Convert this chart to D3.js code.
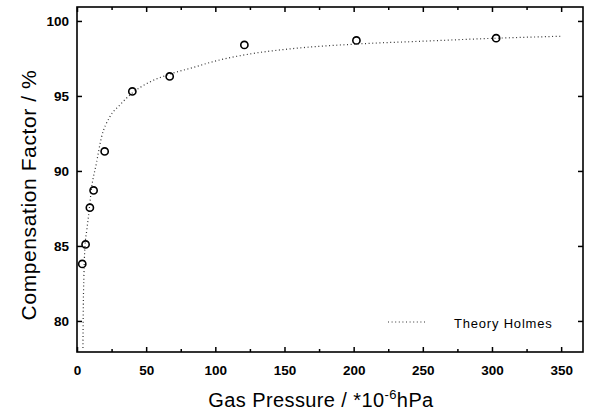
<!DOCTYPE html>
<html>
<head>
<meta charset="utf-8">
<script src="https://cdn.jsdelivr.net/npm/d3@7"></script>
<style>
  body { margin: 0; background: #fff; }
  #chart { width: 590px; height: 414px; }
  text { font-family: "Liberation Sans", Arial, sans-serif; fill: #000; }
</style>
</head>
<body>
<div id="chart"></div>
<script>
// measured compensation factor
var measPressure = [3.8, 6.2, 9.3, 12, 20, 40, 67, 121, 202, 303];
var measFactor = [83.8, 85.1, 87.55, 88.7, 91.3, 95.3, 96.3, 98.4, 98.7, 98.85];

// Holmes theory curve
var theoryPressure = [4.3, 4.5, 5, 5.7, 7, 8.2, 10.6, 14, 17.6, 23.7, 31, 40, 52, 67, 84, 101, 125, 150, 200, 250, 300, 350];
var theoryFactor = [78.2, 80.5, 83, 84.9, 86, 86.9, 88.9, 90.5, 92.2, 93.6, 94.4, 95.2, 95.9, 96.45, 96.9, 97.35, 97.8, 98.1, 98.45, 98.65, 98.84, 98.98];

var xTicks = [0, 50, 100, 150, 200, 250, 300, 350];
var xMinorTicks = [25, 75, 125, 175, 225, 275, 325];
var yTicks = [80, 85, 90, 95, 100];

function formatData(arr1, arr2) {
  var arr = [];
  for (var i = 0; i < arr1.length; i++) {
    arr.push([arr1[i], arr2[i]]);
  }
  return arr;
}

var margin = {top: 7, right: 7, bottom: 62, left: 77},
  width = 590 - margin.left - margin.right,
  height = 414 - margin.top - margin.bottom;

var x = d3.scaleLinear().domain([0, 365.8]).range([0, width]);
var y = d3.scaleLinear().domain([77.93, 100.93]).range([height, 0]);

var svg = d3.select("#chart").append("svg")
    .attr("width", 590)
    .attr("height", 414)
  .append("g")
    .attr("transform", "translate(" + margin.left + "," + margin.top + ")");

// bottom axis, ticks pointing inward
svg.append("g")
    .attr("transform", "translate(0," + height + ")")
    .call(d3.axisBottom(x).tickValues(xTicks).tickSize(-5).tickPadding(13));
svg.append("g")
    .attr("transform", "translate(0," + height + ")")
    .call(d3.axisBottom(x).tickValues(xMinorTicks).tickSize(-3).tickFormat(""));
svg.append("g")
    .call(d3.axisTop(x).tickValues(xTicks).tickSize(-5).tickFormat(""));
svg.append("g")
    .call(d3.axisTop(x).tickValues(xMinorTicks).tickSize(-3).tickFormat(""));

svg.append("g")
    .call(d3.axisLeft(y).tickValues(yTicks).tickSize(-5).tickPadding(8));
svg.append("g")
    .attr("transform", "translate(" + width + ",0)")
    .call(d3.axisRight(y).tickValues(yTicks).tickSize(-5).tickFormat(""));

svg.selectAll(".domain").remove();
svg.selectAll(".tick line").attr("stroke", "#000").attr("stroke-width", 1.5);
svg.selectAll(".tick text")
    .style("font-size", "13.5px")
    .style("font-weight", "bold");

// frame
svg.append("rect")
    .attr("width", width)
    .attr("height", height)
    .attr("fill", "none")
    .attr("stroke", "#000")
    .attr("stroke-width", 1.6);

// theory line
var line = d3.line()
    .x(function(d) { return x(d[0]); })
    .y(function(d) { return y(d[1]); })
    .curve(d3.curveMonotoneX);

svg.append("path")
    .datum(formatData(theoryPressure, theoryFactor))
    .attr("d", line)
    .attr("fill", "none")
    .attr("stroke", "#333")
    .attr("stroke-width", 1.2)
    .attr("stroke-dasharray", "1,2.6");

// data points
svg.selectAll("circle.dot")
    .data(formatData(measPressure, measFactor))
    .enter().append("circle")
    .attr("class", "dot")
    .attr("cx", function(d) { return x(d[0]); })
    .attr("cy", function(d) { return y(d[1]); })
    .attr("r", 3.6)
    .attr("fill", "none")
    .attr("stroke", "#000")
    .attr("stroke-width", 1.6);

// legend
svg.append("line")
    .attr("x1", 388 - margin.left).attr("x2", 427 - margin.left)
    .attr("y1", 322 - margin.top).attr("y2", 322 - margin.top)
    .attr("stroke", "#333")
    .attr("stroke-width", 1.2)
    .attr("stroke-dasharray", "1,2.6");
svg.append("text")
    .attr("x", 454 - margin.left)
    .attr("y", 327.5 - margin.top)
    .style("font-size", "13px")
    .style("letter-spacing", "0.8px")
    .text("Theory Holmes");

// axis titles
var xt = svg.append("text")
    .attr("text-anchor", "middle")
    .attr("x", 321 - margin.left)
    .attr("y", 407 - margin.top)
    .style("font-size", "20px")
    .style("letter-spacing", "0.4px");
xt.append("tspan").text("Gas Pressure / *10");
xt.append("tspan").attr("dy", -8).style("font-size", "13px").text("-6");
xt.append("tspan").attr("dy", 8).text("hPa");

svg.append("text")
    .attr("text-anchor", "middle")
    .attr("transform", "translate(" + (36 - margin.left) + "," + (195 - margin.top) + ")rotate(-90)")
    .style("font-size", "21px")
    .style("letter-spacing", "0.6px")
    .text("Compensation Factor / %");
</script>
</body>
</html>
